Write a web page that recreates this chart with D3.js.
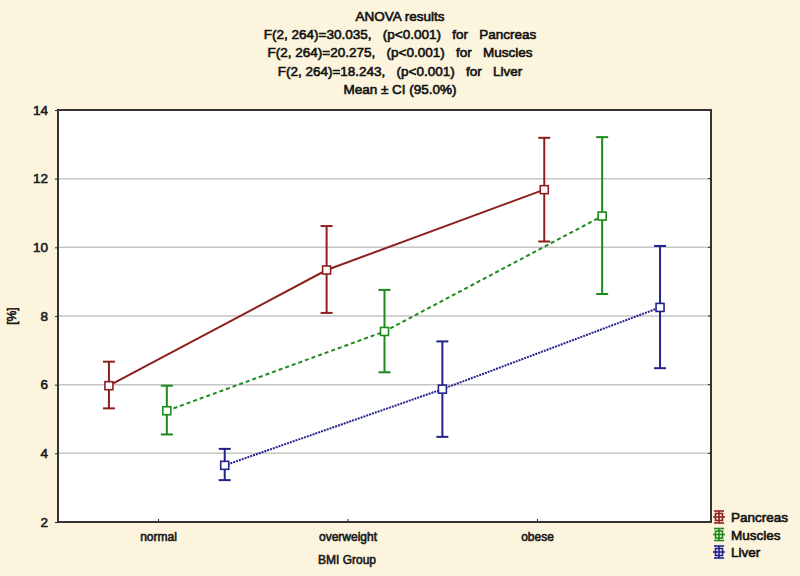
<!DOCTYPE html>
<html><head><meta charset="utf-8">
<script src="https://cdn.jsdelivr.net/npm/d3@7"></script>
<style>
html,body{margin:0;padding:0;background:#fcf4dd;}
svg{display:block;font-family:"Liberation Sans",Arial,sans-serif;}
svg text{stroke-width:0.6px;}
</style></head>
<body><svg id="c" width="800" height="576"></svg>
<script>
const categories = ["normal", "overweight", "obese"];
const seriesNames = ["Pancreas", "Muscles", "Liver"];
const pancreasMean = [5.97, 9.34, 11.68];
const pancreasLow  = [5.31, 8.09, 10.17];
const pancreasHigh = [6.67, 10.62, 13.19];
const musclesMean  = [5.24, 7.55, 10.91];
const musclesLow   = [4.55, 6.36, 8.64];
const musclesHigh  = [5.97, 8.76, 13.21];
const liverMean    = [3.65, 5.87, 8.25];
const liverLow     = [3.22, 4.48, 6.48];
const liverHigh    = [4.13, 7.26, 10.04];
const yTicks = [2, 4, 6, 8, 10, 12, 14];
const titleLines = [
  "ANOVA results",
  "F(2, 264)=30.035,   (p<0.001)   for   Pancreas",
  "F(2, 264)=20.275,   (p<0.001)   for   Muscles",
  "F(2, 264)=18.243,   (p<0.001)   for   Liver",
  "Mean \u00b1 CI (95.0%)"
];

const seriesData = [
  {name: "Pancreas", mean: pancreasMean, low: pancreasLow, high: pancreasHigh, color: "#8e1f1f", dash: null},
  {name: "Muscles", mean: musclesMean, low: musclesLow, high: musclesHigh, color: "#1d8a1d", dash: "4,3"},
  {name: "Liver", mean: liverMean, low: liverLow, high: liverHigh, color: "#22228c", dash: "2,1"}
];

const svg = d3.select("#c");
const L = 58, R = 711, T = 110, B = 522;
const txt = "#1a1a1a";

svg.append("rect").attr("x", L).attr("y", T).attr("width", R - L).attr("height", B - T).attr("fill", "#fff");

const y = d3.scaleLinear().domain([2, 14]).range([B, T]);
const band = d3.scaleBand().domain(categories).range([L, R]);
const inner = d3.scalePoint().domain(seriesNames).range([0, band.bandwidth()]).padding(0.88);
const xTick = d3.scalePoint().domain(categories).range([L + 100, L + 479]);

// gridlines
svg.append("g").selectAll("line").data(yTicks.filter(v => v > 2 && v < 14)).join("line")
  .attr("x1", L).attr("x2", R).attr("y1", d => y(d)).attr("y2", d => y(d))
  .attr("stroke", "#c6c6c6").attr("stroke-width", 1.5);

// y axis
const yAxis = svg.append("g").attr("transform", `translate(${L},0)`)
  .call(d3.axisLeft(y).tickValues(yTicks).tickSize(3).tickPadding(7));
yAxis.select(".domain").remove();
yAxis.selectAll("line").attr("stroke", "#222");
yAxis.selectAll("text").attr("font-size", 13.5).attr("fill", txt).attr("stroke", txt)
  .attr("font-family", "Liberation Sans, Arial, sans-serif");

// right tick marks
svg.append("g").selectAll("line").data(yTicks).join("line")
  .attr("x1", R - 3).attr("x2", R).attr("y1", d => y(d)).attr("y2", d => y(d)).attr("stroke", "#222");

// x axis
const xAxis = svg.append("g").attr("transform", `translate(0,${B})`)
  .call(d3.axisBottom(xTick).tickSize(-3).tickPadding(10));
xAxis.select(".domain").remove();
xAxis.selectAll("line").attr("stroke", "#222");
xAxis.selectAll("text").attr("font-size", 12).attr("fill", txt).attr("stroke", txt)
  .attr("font-family", "Liberation Sans, Arial, sans-serif");

// frame
svg.append("rect").attr("x", L).attr("y", T).attr("width", R - L).attr("height", B - T)
  .attr("fill", "none").attr("stroke", "#333").attr("stroke-width", 2);

const px = (s, i) => band(categories[i]) + inner(s.name);

// lines
const line = d3.line().x(d => d[0]).y(d => d[1]);
seriesData.forEach(s => {
  const pts = s.mean.map((v, i) => [px(s, i), y(v)]);
  svg.append("path").attr("d", line(pts)).attr("fill", "none")
    .attr("stroke", s.color).attr("stroke-width", 2)
    .attr("stroke-dasharray", s.dash);
});

// error bars + markers
seriesData.forEach(s => {
  const g = svg.append("g").attr("stroke", s.color).attr("stroke-width", 2);
  s.mean.forEach((v, i) => {
    const cx = px(s, i);
    g.append("line").attr("x1", cx).attr("x2", cx).attr("y1", y(s.low[i])).attr("y2", y(s.high[i]));
    g.append("line").attr("x1", cx - 6).attr("x2", cx + 6).attr("y1", y(s.low[i])).attr("y2", y(s.low[i]));
    g.append("line").attr("x1", cx - 6).attr("x2", cx + 6).attr("y1", y(s.high[i])).attr("y2", y(s.high[i]));
    g.append("rect").attr("x", cx - 4).attr("y", y(v) - 4).attr("width", 8).attr("height", 8)
      .attr("fill", "#fff").attr("stroke-width", 1.6);
  });
});

// title
svg.append("g").selectAll("text").data(titleLines).join("text")
  .attr("x", 400).attr("y", (d, i) => 21 + i * 18.2)
  .attr("text-anchor", "middle").attr("font-size", 13.5).attr("fill", "#111").attr("stroke", "#111")
  .attr("xml:space", "preserve").style("white-space", "pre")
  .text(d => d);

// axis titles
svg.append("text").attr("x", L + 289).attr("y", 564).attr("text-anchor", "middle")
  .attr("font-size", 12).attr("fill", txt).attr("stroke", txt).text("BMI Group");
svg.append("text").attr("transform", `translate(15.5,${(T + B) / 2}) rotate(-90)`).attr("text-anchor", "middle")
  .attr("font-size", 12).attr("fill", txt).attr("stroke", txt).text("[%]");

// legend
const leg = svg.append("g");
seriesData.forEach((s, i) => {
  const ly = 517 + i * 17.5;
  const cx = 719;
  const g = leg.append("g").attr("stroke", s.color).attr("stroke-width", 1.6);
  g.append("line").attr("x1", cx).attr("x2", cx).attr("y1", ly - 6).attr("y2", ly + 6);
  g.append("line").attr("x1", cx - 5).attr("x2", cx + 5).attr("y1", ly - 6).attr("y2", ly - 6);
  g.append("line").attr("x1", cx - 5).attr("x2", cx + 5).attr("y1", ly + 6).attr("y2", ly + 6);
  g.append("line").attr("x1", cx - 6).attr("x2", cx + 6).attr("y1", ly).attr("y2", ly);
  g.append("rect").attr("x", cx - 3.5).attr("y", ly - 3.5).attr("width", 7).attr("height", 7).attr("fill", "none");
  leg.append("text").attr("x", 731).attr("y", ly + 5).attr("font-size", 13.5)
    .attr("fill", "#111").attr("stroke", "#111").text(s.name);
});
</script></body></html>
